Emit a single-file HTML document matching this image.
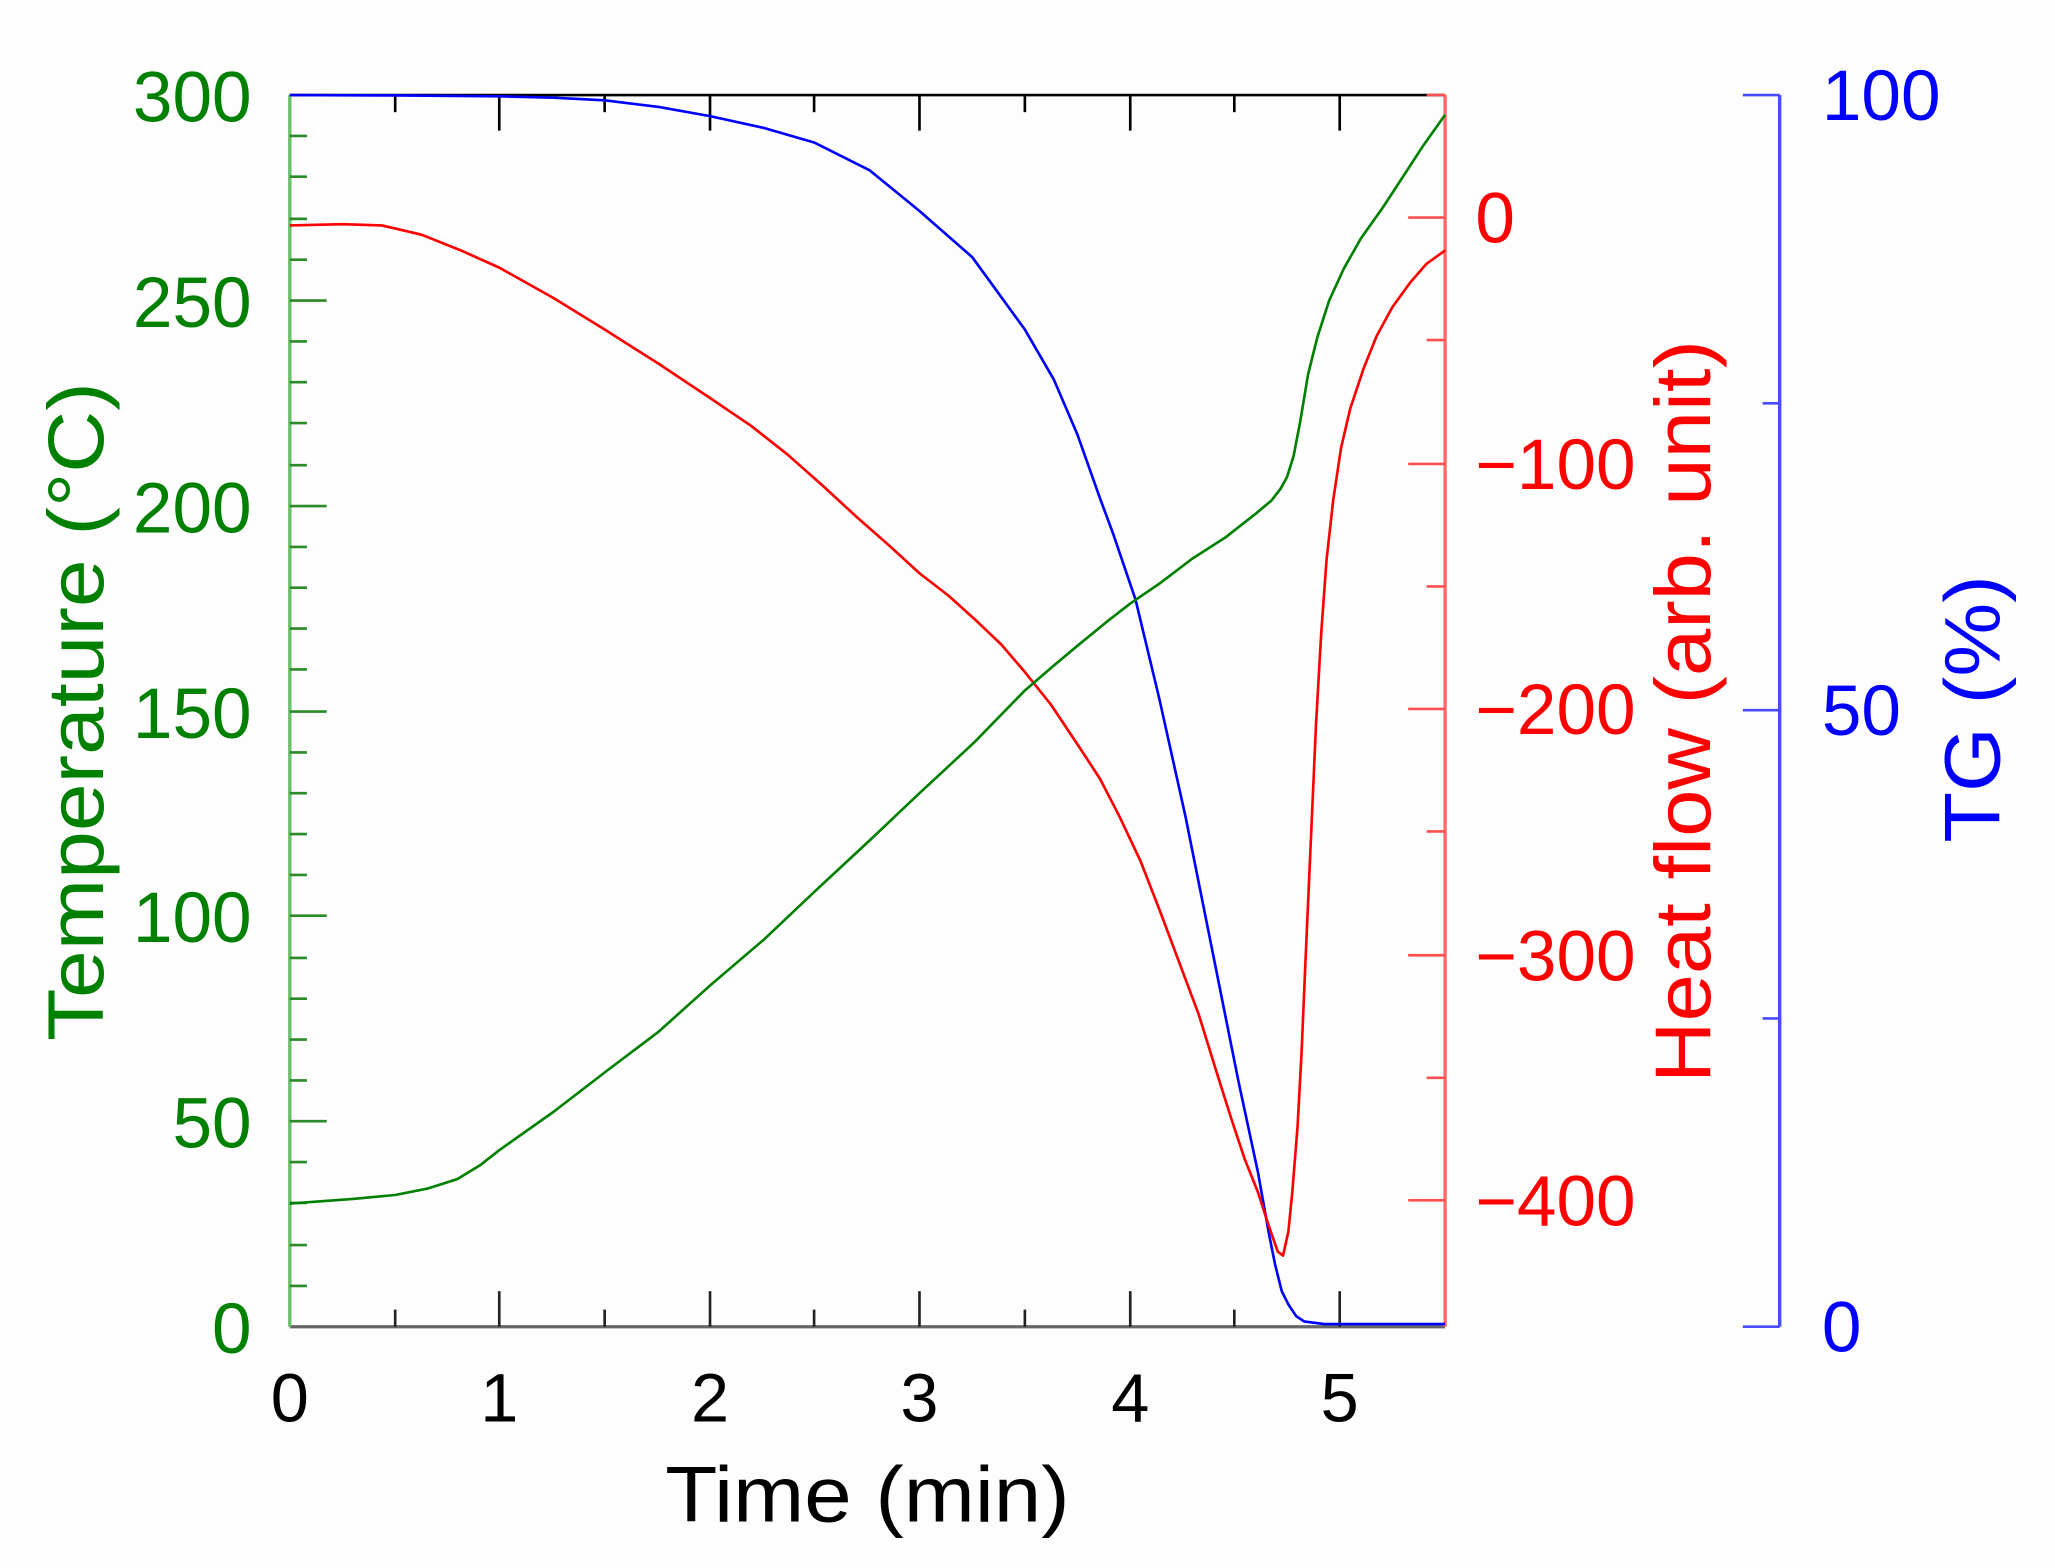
<!DOCTYPE html>
<html><head><meta charset="utf-8"><style>html,body{margin:0;padding:0;background:#fdfdfd}svg{display:block}</style></head>
<body>
<svg width="2055" height="1568" viewBox="0 0 1560 1190" xmlns="http://www.w3.org/2000/svg" font-family="Liberation Sans, Arial, sans-serif">
<rect width="1560" height="1190" fill="#fdfdfd"/>
<line x1="220" y1="72" x2="1097" y2="72" stroke="#000" stroke-width="2"/>
<g stroke="#000" stroke-width="2">
<line x1="300" y1="72" x2="300" y2="85"/><line x1="379" y1="72" x2="379" y2="99"/>
<line x1="459" y1="72" x2="459" y2="85"/><line x1="539" y1="72" x2="539" y2="99"/>
<line x1="618" y1="72" x2="618" y2="85"/><line x1="698" y1="72" x2="698" y2="99"/>
<line x1="778" y1="72" x2="778" y2="85"/><line x1="858" y1="72" x2="858" y2="99"/>
<line x1="937" y1="72" x2="937" y2="85"/><line x1="1017" y1="72" x2="1017" y2="99"/>
</g>
<line x1="220" y1="1007" x2="1097" y2="1007" stroke="#666" stroke-width="2.5"/>
<g stroke="#222" stroke-width="2">
<line x1="300" y1="1007" x2="300" y2="994"/><line x1="379" y1="1007" x2="379" y2="980"/>
<line x1="459" y1="1007" x2="459" y2="994"/><line x1="539" y1="1007" x2="539" y2="980"/>
<line x1="618" y1="1007" x2="618" y2="994"/><line x1="698" y1="1007" x2="698" y2="980"/>
<line x1="778" y1="1007" x2="778" y2="994"/><line x1="858" y1="1007" x2="858" y2="980"/>
<line x1="937" y1="1007" x2="937" y2="994"/><line x1="1017" y1="1007" x2="1017" y2="980"/>
</g>
<line x1="220" y1="72" x2="220" y2="1007" stroke="#6cbf6c" stroke-width="2.6"/>
<g stroke="#2a8a2a" stroke-width="2">
<line x1="220" y1="103" x2="233" y2="103"/><line x1="220" y1="134" x2="233" y2="134"/><line x1="220" y1="166" x2="233" y2="166"/><line x1="220" y1="197" x2="233" y2="197"/><line x1="220" y1="228" x2="248" y2="228"/>
<line x1="220" y1="259" x2="233" y2="259"/><line x1="220" y1="290" x2="233" y2="290"/><line x1="220" y1="321" x2="233" y2="321"/><line x1="220" y1="353" x2="233" y2="353"/><line x1="220" y1="384" x2="248" y2="384"/>
<line x1="220" y1="415" x2="233" y2="415"/><line x1="220" y1="446" x2="233" y2="446"/><line x1="220" y1="477" x2="233" y2="477"/><line x1="220" y1="508" x2="233" y2="508"/><line x1="220" y1="540" x2="248" y2="540"/>
<line x1="220" y1="571" x2="233" y2="571"/><line x1="220" y1="602" x2="233" y2="602"/><line x1="220" y1="633" x2="233" y2="633"/><line x1="220" y1="664" x2="233" y2="664"/><line x1="220" y1="695" x2="248" y2="695"/>
<line x1="220" y1="727" x2="233" y2="727"/><line x1="220" y1="758" x2="233" y2="758"/><line x1="220" y1="789" x2="233" y2="789"/><line x1="220" y1="820" x2="233" y2="820"/><line x1="220" y1="851" x2="248" y2="851"/>
<line x1="220" y1="882" x2="233" y2="882"/><line x1="220" y1="913" x2="233" y2="913"/><line x1="220" y1="945" x2="233" y2="945"/><line x1="220" y1="976" x2="233" y2="976"/>
</g>
<line x1="1097" y1="72" x2="1097" y2="1007" stroke="#ff6a6a" stroke-width="2.6"/>
<g stroke="#ff5050" stroke-width="2">
<line x1="1069" y1="165" x2="1097" y2="165"/><line x1="1083" y1="258" x2="1097" y2="258"/>
<line x1="1069" y1="352" x2="1097" y2="352"/><line x1="1083" y1="445" x2="1097" y2="445"/>
<line x1="1069" y1="538" x2="1097" y2="538"/><line x1="1083" y1="631" x2="1097" y2="631"/>
<line x1="1069" y1="725" x2="1097" y2="725"/><line x1="1083" y1="818" x2="1097" y2="818"/>
<line x1="1069" y1="911" x2="1097" y2="911"/><line x1="1083" y1="72" x2="1097" y2="72"/>
</g>
<line x1="1351" y1="72" x2="1351" y2="1007" stroke="#4a4aff" stroke-width="2.6"/>
<g stroke="#4a4aff" stroke-width="2">
<line x1="1323" y1="72" x2="1351" y2="72"/><line x1="1338" y1="306" x2="1351" y2="306"/>
<line x1="1323" y1="539" x2="1351" y2="539"/><line x1="1338" y1="773" x2="1351" y2="773"/>
<line x1="1323" y1="1007" x2="1351" y2="1007"/>
</g>
<polyline fill="none" stroke="#0000ff" stroke-width="2" stroke-linejoin="round" points="220,72 300,72.3 379,73 420,74 459,76 500,81 539,88 580,97 618,108 660,129 698,160 738,195 778,250 800,288 818,330 835,378 845,405 862,455 880,530 900,620 920,720 940,820 955,890 963,935 968,960 973,980 978,990 984,999 990,1003 1005,1005 1097,1005"/>
<polyline fill="none" stroke="#ff0000" stroke-width="2" stroke-linejoin="round" points="220,171 260,170 290,171 320,178 350,190 379,203 420,226 459,250 500,276 539,302 570,323 598,345 625,369 650,392 675,414 698,435 720,452 740,470 760,489 778,510 798,535 818,565 835,591 850,620 866,654 880,690 895,730 910,770 923,812 935,850 945,880 955,905 963,930 970,950 974,953 978,935 981,905 985,855 988,800 991,730 995,640 999,550 1003,480 1007,425 1012,380 1018,340 1025,310 1035,280 1045,255 1057,233 1070,215 1083,200 1097,190"/>
<polyline fill="none" stroke="#008000" stroke-width="2" stroke-linejoin="round" points="220,913.5 268,910 300,907 325,902 347,895 365,884 379,873 420,844 459,814 500,783 539,748 580,713 618,677 660,638 698,602 740,563 778,524 800,505 818,490 840,472 858,458 880,443 905,424 930,408 953,390 965,380 972,371 977,362 982,346 987,320 993,284 1000,256 1009,228 1020,204 1033,181 1050,157 1065,134 1080,111 1097,87"/>
<g fill="#008000" font-size="54" text-anchor="end">
<text x="191" y="92">300</text><text x="191" y="248">250</text><text x="191" y="404">200</text>
<text x="191" y="560">150</text><text x="191" y="715">100</text><text x="191" y="871">50</text><text x="191" y="1027">0</text>
</g>
<g fill="#ff0000" font-size="54">
<text x="1120" y="184">0</text><text x="1120" y="371">−100</text><text x="1120" y="557">−200</text>
<text x="1120" y="744">−300</text><text x="1120" y="930">−400</text>
</g>
<g fill="#0000ff" font-size="54">
<text x="1383" y="91">100</text><text x="1383" y="558">50</text><text x="1383" y="1026">0</text>
</g>
<g fill="#000" font-size="52" text-anchor="middle">
<text x="220" y="1079">0</text><text x="379" y="1079">1</text><text x="539" y="1079">2</text>
<text x="698" y="1079">3</text><text x="858" y="1079">4</text><text x="1017" y="1079">5</text>
</g>
<text x="505" y="1155" font-size="60" textLength="307" lengthAdjust="spacingAndGlyphs" fill="#000">Time (min)</text>
<text transform="translate(78,540) rotate(-90)" text-anchor="middle" font-size="60" textLength="500" lengthAdjust="spacingAndGlyphs" fill="#008000">Temperature (°C)</text>
<text transform="translate(1298,540) rotate(-90)" text-anchor="middle" font-size="60" textLength="564" lengthAdjust="spacingAndGlyphs" fill="#ff0000">Heat flow (arb. unit)</text>
<text transform="translate(1518,538) rotate(-90)" text-anchor="middle" font-size="60" textLength="203" lengthAdjust="spacingAndGlyphs" fill="#0000ff">TG (%)</text>
</svg>
</body></html>
